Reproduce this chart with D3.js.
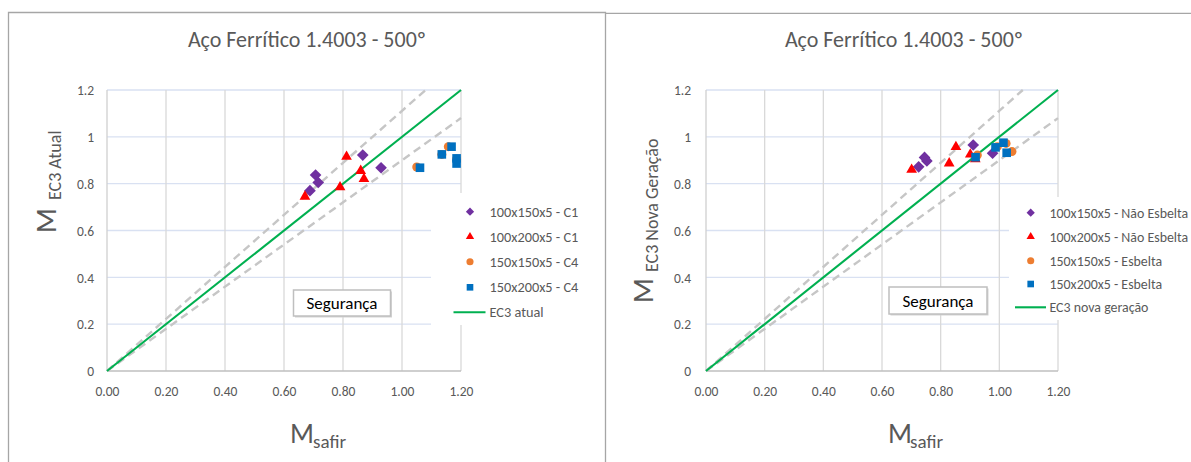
<!DOCTYPE html>
<html>
<head>
<meta charset="utf-8">
<script src="https://cdn.jsdelivr.net/npm/d3@7"></script>
<style>
  html, body { margin: 0; padding: 0; background: #fff; overflow: hidden; }
  svg { display: block; }
  text { font-family: "Carlito", "Liberation Sans", Arial, sans-serif; }
</style>
</head>
<body>
<svg id="chart" width="1191" height="462"></svg>
<script>
// ---- Axis ticks ----
const xTicks = [0, 0.2, 0.4, 0.6, 0.8, 1.0, 1.2];
const yTicks = [0, 0.2, 0.4, 0.6, 0.8, 1.0, 1.2];

// ---- Reference lines (M_EC3 = M_safir and ±10% bounds) ----
const refLine   = [[0, 0], [1.2, 1.2]];
const upperLine = [[0, 0], [1.08, 1.2]];
const lowerLine = [[0, 0], [1.2, 1.08]];

// ---- EC3 atual : [M_safir, M_EC3] ----
const atual_100x150 = [[0.707, 0.837], [0.716, 0.805], [0.688, 0.770], [0.867, 0.922], [0.929, 0.868]];
const atual_100x200 = [[0.671, 0.745], [0.812, 0.915], [0.790, 0.785], [0.860, 0.855], [0.871, 0.820]];
const atual_150x150 = [[1.050, 0.871], [1.157, 0.958], [1.135, 0.925], [1.185, 0.905]];
const atual_150x200 = [[1.061, 0.868], [1.135, 0.925], [1.168, 0.958], [1.185, 0.908], [1.185, 0.886]];
const atualNames = ["100x150x5 - C1", "100x200x5 - C1", "150x150x5 - C4", "150x200x5 - C4", "EC3 atual"];

// ---- EC3 nova geração : [M_safir, M_EC3] ----
const nova_100x150 = [[0.725, 0.872], [0.745, 0.912], [0.753, 0.897], [0.911, 0.965], [0.977, 0.930]];
const nova_100x200 = [[0.701, 0.860], [0.829, 0.887], [0.852, 0.957], [0.901, 0.925], [0.918, 0.905]];
const nova_150x150 = [[0.925, 0.922], [0.993, 0.958], [1.023, 0.972], [1.043, 0.937]];
const nova_150x200 = [[0.919, 0.913], [0.987, 0.955], [1.014, 0.975], [1.025, 0.932]];
const novaNames = ["100x150x5 - Não Esbelta", "100x200x5 - Não Esbelta", "150x150x5 - Esbelta", "150x200x5 - Esbelta", "EC3 nova geração"];

const titleText = "Aço Ferrítico 1.4003 - 500º";
const safetyText = "Segurança";

// ---- Styles ----
const markerStyles = [
  { type: "diamond",  color: "#7030a0", size: 68, legendSize: 34 },
  { type: "triangle", color: "#ff0000", size: 50, legendSize: 30 },
  { type: "circle",   color: "#ed7d31", size: 64, legendSize: 40 },
  { type: "square",   color: "#0070c0", size: 74, legendSize: 44 }
];
const textGrey = "#595959";
const lineGreen = "#00b050";

const svg = d3.select("#chart");

// Chart frames
svg.append("path")
  .attr("d", "M8.5,462 V12.5 H605.5 V462")
  .attr("fill", "none").attr("stroke", "#a6a6a6").attr("stroke-width", 1.3);
svg.append("path")
  .attr("d", "M605.5,13.3 H1191")
  .attr("fill", "none").attr("stroke", "#a6a6a6").attr("stroke-width", 1.3);

function symbolPath(type, size) {
  const t = { diamond: d3.symbolSquare, triangle: d3.symbolTriangle,
              circle: d3.symbolCircle, square: d3.symbolSquare }[type];
  return d3.symbol().type(t).size(size)();
}

function drawPanel(cfg) {
  const g = svg.append("g");
  const x = d3.scaleLinear().domain([0, 1.2]).range([cfg.left, cfg.right]);
  const y = d3.scaleLinear().domain([0, 1.2]).range([371, 90]);

  // Title
  g.append("text")
    .attr("x", cfg.titleX).attr("y", 47)
    .attr("text-anchor", "middle")
    .attr("font-size", 22).attr("fill", textGrey)
    .text(titleText);

  // Gridlines
  g.append("g").selectAll("line").data(yTicks.filter(d => d > 0)).join("line")
    .attr("x1", x(0)).attr("x2", x(1.2))
    .attr("y1", d => y(d)).attr("y2", d => y(d))
    .attr("stroke", "#d9e1f2").attr("stroke-width", 1.3);
  g.append("g").selectAll("line").data(xTicks.filter(d => d > 0)).join("line")
    .attr("x1", d => x(d)).attr("x2", d => x(d))
    .attr("y1", y(0)).attr("y2", y(1.2))
    .attr("stroke", "#d9d9d9").attr("stroke-width", 1.3);

  // Axis lines
  g.append("line").attr("x1", x(0)).attr("x2", x(0)).attr("y1", y(0)).attr("y2", y(1.2))
    .attr("stroke", "#d0d0d0").attr("stroke-width", 1.3);
  g.append("line").attr("x1", x(0)).attr("x2", x(1.2)).attr("y1", y(0)).attr("y2", y(0))
    .attr("stroke", "#bfbfbf").attr("stroke-width", 1.3);

  // Tick labels
  const xAxis = d3.axisBottom(x).tickValues(xTicks).tickFormat(d3.format(".2f")).tickSize(0).tickPadding(0);
  const xa = g.append("g").attr("transform", `translate(0,${y(0) + 25})`).call(xAxis);
  xa.select(".domain").remove();
  xa.selectAll("text").attr("font-size", 13.5).attr("fill", textGrey)
    .attr("font-family", null).attr("dy", 0);

  const yAxis = d3.axisLeft(y).tickValues(yTicks).tickFormat(d3.format("")).tickSize(0).tickPadding(0);
  const ya = g.append("g").attr("transform", `translate(${x(0) - cfg.yTickGap},0)`).call(yAxis);
  ya.select(".domain").remove();
  ya.selectAll("text").attr("font-size", 13.5).attr("fill", textGrey)
    .attr("font-family", null).attr("dy", "0.35em");

  // Legend background (hides gridlines behind it)
  g.append("rect")
    .attr("x", cfg.legendBox[0]).attr("y", cfg.legendBox[1])
    .attr("width", cfg.legendBox[2]).attr("height", cfg.legendBox[3])
    .attr("fill", "#fff");

  // Reference lines
  const line = d3.line().x(d => x(d[0])).y(d => y(d[1]));
  [upperLine, lowerLine].forEach(l => {
    g.append("path").attr("d", line(l)).attr("fill", "none")
      .attr("stroke", "#c6c6c6").attr("stroke-width", 2.4)
      .attr("stroke-dasharray", "8,5");
  });
  g.append("path").attr("d", line(refLine)).attr("fill", "none")
    .attr("stroke", lineGreen).attr("stroke-width", 2.1);

  // Data markers
  cfg.series.forEach((pts, i) => {
    const st = markerStyles[i];
    g.append("g").selectAll("path").data(pts).join("path")
      .attr("d", symbolPath(st.type, st.size))
      .attr("transform", d => `translate(${x(d[0])},${y(d[1])})` + (st.type === "diamond" ? " rotate(45)" : ""))
      .attr("fill", st.color);
  });

  // Safety box
  const b = cfg.safetyBox;
  g.append("rect").attr("x", b[0] + 1.5).attr("y", b[1] + 1.5).attr("width", b[2]).attr("height", b[3])
    .attr("fill", "#d4d4d4");
  g.append("rect").attr("x", b[0]).attr("y", b[1]).attr("width", b[2]).attr("height", b[3])
    .attr("fill", "#fff").attr("stroke", "#bfbfbf").attr("stroke-width", 1.5);
  g.append("text").attr("x", b[0] + b[2] / 2).attr("y", b[1] + b[3] / 2 + 6)
    .attr("text-anchor", "middle").attr("font-size", 17).attr("fill", "#000")
    .text(safetyText);

  // Legend
  const lg = g.append("g");
  cfg.names.forEach((name, i) => {
    const ry = cfg.legendRows[i];
    if (i < 4) {
      const st = markerStyles[i];
      lg.append("path").attr("d", symbolPath(st.type, st.legendSize))
        .attr("transform", `translate(${cfg.legendMarkerX},${ry})` + (st.type === "diamond" ? " rotate(45)" : ""))
        .attr("fill", st.color);
    } else {
      lg.append("line").attr("x1", cfg.legendLine[0]).attr("x2", cfg.legendLine[1])
        .attr("y1", ry).attr("y2", ry)
        .attr("stroke", lineGreen).attr("stroke-width", 2.1);
    }
    lg.append("text").attr("x", cfg.legendTextX).attr("y", ry + 5)
      .attr("font-size", cfg.legendFont).attr("fill", textGrey)
      .text(name);
  });

  // X axis title: M with subscript "safir"
  g.append("text").attr("x", cfg.xLabel[0]).attr("y", 443)
    .attr("font-size", 28).attr("fill", textGrey).text("M");
  g.append("text").attr("x", cfg.xLabel[1]).attr("y", 448)
    .attr("font-size", 19).attr("fill", textGrey).text("safir");

  // Y axis title: M with subscript, rotated
  const yl = g.append("g").attr("transform", `translate(${cfg.yLabel[0]},${cfg.yLabel[1]}) rotate(-90)`);
  yl.append("text").attr("x", 0).attr("y", 0)
    .attr("font-size", 29).attr("fill", textGrey).text("M");
  yl.append("text").attr("x", cfg.yLabel[2]).attr("y", 5)
    .attr("font-size", 18).attr("fill", textGrey).text(cfg.ySub);
}

drawPanel({
  left: 107, right: 461, titleX: 307, yTickGap: 13,
  series: [atual_100x150, atual_100x200, atual_150x150, atual_150x200],
  names: atualNames, legendFont: 14.3,
  legendBox: [431, 193, 172, 132],
  legendMarkerX: 470, legendTextX: 489.5, legendLine: [453.5, 485.5],
  legendRows: [211.7, 236.7, 261.7, 287.3, 312.3],
  safetyBox: [293.5, 290, 97, 26],
  xLabel: [290, 313],
  yLabel: [56, 233, 33], ySub: "EC3 Atual"
});

drawPanel({
  left: 706, right: 1058, titleX: 904, yTickGap: 15,
  series: [nova_100x150, nova_100x200, nova_150x150, nova_150x200],
  names: novaNames, legendFont: 13.9,
  legendBox: [1009, 197, 182, 123],
  legendMarkerX: 1030.7, legendTextX: 1049.5, legendLine: [1015, 1046],
  legendRows: [212.7, 236.7, 260.7, 284, 307.3],
  safetyBox: [889, 287, 98, 27],
  xLabel: [888, 910],
  yLabel: [653, 303, 31], ySub: "EC3 Nova Geração"
});
</script>
</body>
</html>
